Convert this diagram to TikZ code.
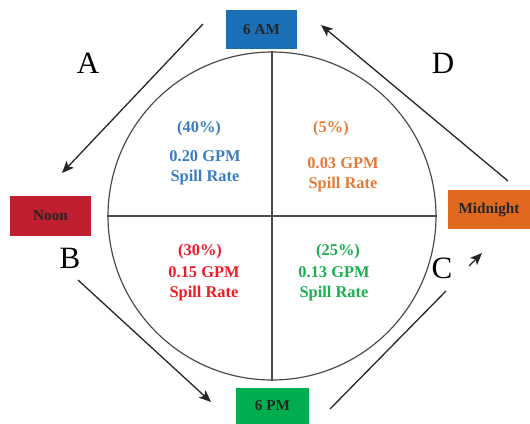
\documentclass[tikz,border=0pt]{standalone}
\usepackage{fontspec}
\setmainfont{Liberation Serif}
\usetikzlibrary{arrows.meta}

\definecolor{amblue}{HTML}{1B6FB7}
\definecolor{noonred}{HTML}{BE1E2D}
\definecolor{midorange}{HTML}{E0691F}
\definecolor{pmgreen}{HTML}{00AE4F}
\definecolor{txtblue}{HTML}{3A7DC0}
\definecolor{txtorange}{HTML}{E47B38}
\definecolor{txtred}{HTML}{ED1C24}
\definecolor{txtgreen}{HTML}{1DAE4F}

\tikzset{
  timebox/.style={minimum height=19.5pt,inner sep=0pt,text=black!85,
    font=\fontsize{7.6}{9}\selectfont\bfseries},
  letter/.style={font=\fontsize{15.5}{18}\selectfont},
  rate/.style={align=center,font=\fontsize{8.2}{10}\selectfont\bfseries},
  flow/.style={draw=black!85,line width=0.65pt},
  tip/.style={-{Stealth[length=6pt,width=5pt,inset=1.5pt]}}
}

\begin{document}
\begin{tikzpicture}[x=0.5pt,y=-0.5pt]
\useasboundingbox (0,0) rectangle (530,423);

% clock face
\node (clock) [draw=black!70,line width=0.6pt,circle,minimum size=164pt,inner sep=0pt] at (272,216) {};
\draw[black!70,line width=0.6pt] (clock.north) -- (clock.south);
\draw[black!70,line width=0.6pt] (clock.west) -- (clock.east);

% times of day
\node (am) [timebox,fill=amblue,minimum width=35.5pt] at (261.5,29.5) {6 AM};
\node (noon) [timebox,fill=noonred,minimum width=40.5pt,minimum height=20pt] at (50.5,216) {Noon};
\node (mid) [timebox,fill=midorange,minimum width=41pt] at (489,209.5) {Midnight};
\node (pm) [timebox,fill=pmgreen,minimum width=36.5pt,minimum height=18pt] at (272.5,406) {6 PM};

% letters
\node (A) [letter] at (88,63) {A};
\node (B) [letter] at (70,258) {B};
\node (C) [letter] at (442,268) {C};
\node (D) [letter] at (443,63) {D};

% quadrants
\node (q1p) [rate,text=txtblue] at (199,129) {(40\%)};
\node (q1) [rate,text=txtblue] at (205,168) {0.20 GPM\\Spill Rate};
\node (q2p) [rate,text=txtorange] at (331,129) {(5\%)};
\node (q2) [rate,text=txtorange] at (343,175) {0.03 GPM\\Spill Rate};
\node (q3p) [rate,text=txtred] at (200,252) {(30\%)};
\node (q3) [rate,text=txtred] at (204,284) {0.15 GPM\\Spill Rate};
\node (q4p) [rate,text=txtgreen] at (338,252) {(25\%)};
\node (q4) [rate,text=txtgreen] at (334,284) {0.13 GPM\\Spill Rate};

% arrow ends
\coordinate (a0) at (203,24);
\coordinate (a1) at (62,173);
\coordinate (b0) at (78,280);
\coordinate (b1) at (211,402);
\coordinate (c0) at (330,409);
\coordinate (c1) at (446,291);
\coordinate (c2) at (469,266);
\coordinate (c3) at (482,253);
\coordinate (d0) at (508,181);
\coordinate (d1) at (321,25);

\path
(a0) edge[flow,tip] (a1)
(b0) edge[flow,tip] (b1)
(c0) edge[flow] (c1)
(c2) edge[flow,tip] (c3)
(d0) edge[flow,tip] (d1);
\end{tikzpicture}
\end{document}
